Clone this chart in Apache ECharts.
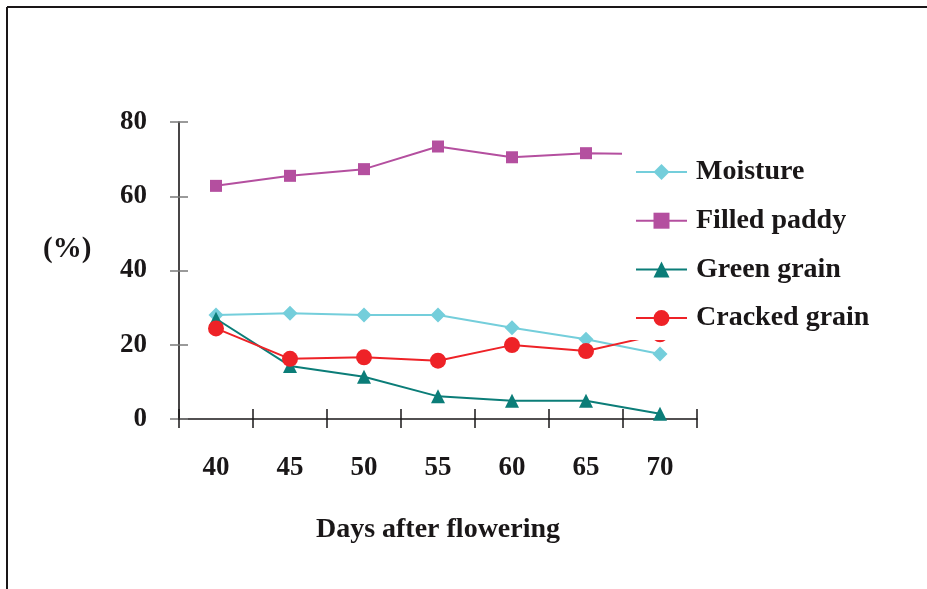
<!DOCTYPE html>
<html>
<head>
<meta charset="utf-8">
<script src="https://cdn.jsdelivr.net/npm/echarts@6/dist/echarts.min.js"></script>
<style>
  html, body { margin: 0; padding: 0; background: #fff; }
  #chart { width: 927px; height: 589px; }
</style>
</head>
<body>
<div id="chart"></div>
<script>
// Days after flowering
const days = ['40', '45', '50', '55', '60', '65', '70'];

// Values in percent
const moisture     = [28.0, 28.5, 28.0, 28.0, 24.6, 21.5, 17.5];
const filledPaddy  = [62.8, 65.5, 67.3, 73.4, 70.5, 71.6, 71.3];
const greenGrain   = [27.0, 14.3, 11.4, 6.1, 4.9, 4.9, 1.4];
const crackedGrain = [24.4, 16.2, 16.6, 15.7, 19.9, 18.3, 22.8];

const yTicks = { min: 0, max: 80, interval: 20 };

const font = '"Liberation Serif", "Times New Roman", serif';
const ink = '#1a1718';

const chart = echarts.init(document.getElementById('chart'), null, { renderer: 'canvas' });

const grid = { left: 179, right: 230, top: 122, bottom: 170 };

function series(name, data, color, symbol, size) {
  return {
    name, type: 'line', data,
    xAxisIndex: 0, yAxisIndex: 0,
    symbol, symbolSize: size,
    lineStyle: { color, width: 2 },
    itemStyle: { color },
    emphasis: { disabled: true },
    animation: false
  };
}

chart.setOption({
  backgroundColor: '#fff',
  animation: false,
  grid: [
    Object.assign({}, grid),
    Object.assign({}, grid)
  ],
  xAxis: [
    {
      type: 'category', data: days, gridIndex: 0, boundaryGap: true,
      axisLine: { lineStyle: { color: ink, width: 1.6 } },
      axisTick: { show: true, length: 9, lineStyle: { color: ink, width: 1.5 } },
      axisLabel: { color: ink, fontFamily: font, fontWeight: 'bold', fontSize: 27, margin: 36 },
      name: 'Days after flowering', nameLocation: 'middle', nameGap: 97,
      nameTextStyle: { color: ink, fontFamily: font, fontWeight: 'bold', fontSize: 28 }
    },
    {
      type: 'category', data: days, gridIndex: 1, boundaryGap: true,
      axisLine: { show: false },
      axisTick: { show: true, inside: true, length: 10, lineStyle: { color: ink, width: 1.5 } },
      axisLabel: { show: false }
    }
  ],
  yAxis: [
    {
      type: 'value', gridIndex: 0,
      min: yTicks.min, max: yTicks.max, interval: yTicks.interval,
      axisLine: { show: true, lineStyle: { color: ink, width: 1.6 } },
      axisTick: { show: true, length: 9, lineStyle: { color: '#7a7a7a', width: 1.5 } },
      splitLine: { show: false },
      axisLabel: { color: ink, fontFamily: font, fontWeight: 'bold', fontSize: 27, margin: 32 }
    },
    {
      type: 'value', gridIndex: 1,
      min: yTicks.min, max: yTicks.max, interval: yTicks.interval,
      axisLine: { show: false },
      axisTick: { show: true, inside: true, length: 9, lineStyle: { color: '#7a7a7a', width: 1.5 } },
      splitLine: { show: false },
      axisLabel: { show: false }
    }
  ],
  legend: {
    orient: 'vertical',
    left: 622, top: 147,
    padding: [10, 10, 7, 13],
    backgroundColor: '#fff',
    itemWidth: 51, itemHeight: 20,
    itemGap: 18.7,
    selectedMode: false,
    lineStyle: { width: 2 },
    textStyle: { color: ink, fontFamily: font, fontWeight: 'bold', fontSize: 28, lineHeight: 30, padding: [0, 0, 0, 4] },
    data: ['Moisture', 'Filled paddy', 'Green grain', 'Cracked grain']
  },
  graphic: [
    { type: 'line', shape: { x1: 7, y1: 7, x2: 927, y2: 7 }, style: { stroke: ink, lineWidth: 2 } },
    { type: 'line', shape: { x1: 7, y1: 7, x2: 7, y2: 589 }, style: { stroke: ink, lineWidth: 2 } },
    {
      type: 'text', left: 43, top: 235,
      style: { text: '(%)', fill: ink, font: 'bold 29px ' + font }
    }
  ],
  series: [
    series('Moisture', moisture, '#74cedb', 'diamond', 15),
    series('Filled paddy', filledPaddy, '#b44f9f', 'rect', 12),
    series('Green grain', greenGrain, '#0b7d78', 'triangle', 14),
    series('Cracked grain', crackedGrain, '#ee2227', 'circle', 16)
  ]
});
</script>
</body>
</html>
